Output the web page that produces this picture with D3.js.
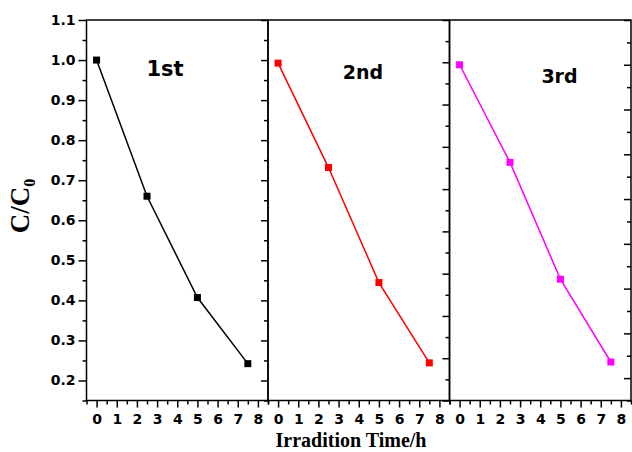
<!DOCTYPE html>
<html>
<head>
<meta charset="utf-8">
<script src="https://cdn.jsdelivr.net/npm/d3@7"></script>
<style>
  body { margin: 0; background: #fff; }
</style>
</head>
<body>
<svg id="chart"></svg>
<script>
// data (each run has its own y range)
const times = [0, 2.5, 5, 7.5];
const run1 = [1.0, 0.66, 0.407, 0.242];
const run2 = [0.998, 0.751, 0.479, 0.289];
const run3 = [1.0, 0.782, 0.521, 0.336];
const runNames = ['1st', '2nd', '3rd'];
const yDomains = [[0.15, 1.1], [0.2, 1.1], [0.25, 1.1]];
const xDomain = [-0.5, 8.5];
const xTickValues = [0, 1, 2, 3, 4, 5, 6, 7, 8];
const yTickValues = [0.2, 0.3, 0.4, 0.5, 0.6, 0.7, 0.8, 0.9, 1.0, 1.1];

const runs = [run1, run2, run3];
const colors = ['#000000', '#ff0000', '#ff00ff'];
// label placement inside each panel (px from panel left / top)
const labelPos = [[78.5, 56], [95, 59], [110, 63]];

const width = 632, height = 452;
const margin = { top: 20, right: 1, bottom: 51.5, left: 86.5 };
const panelW = (width - margin.left - margin.right) / 3;
const innerH = height - margin.top - margin.bottom;

const svg = d3.select('#chart')
  .attr('width', width)
  .attr('height', height);

// axis styling helper
function styleAxis(a) {
  a.select('.domain').remove();
  a.selectAll('.tick line').attr('stroke', '#000').attr('stroke-width', 1.5);
  a.selectAll('.tick text')
    .style('font-family', '"DejaVu Sans", sans-serif')
    .style('font-weight', 'bold')
    .style('font-size', '14px')
    .attr('fill', '#000');
}

runs.forEach((vals, i) => {
  const x = d3.scaleLinear().domain(xDomain).range([0, panelW]);
  const y = d3.scaleLinear().domain(yDomains[i]).range([innerH, 0]);
  const [y0, y1] = yDomains[i];

  const g = svg.append('g')
    .attr('transform', `translate(${margin.left + i * panelW},${margin.top})`);

  // x axis, majors with labels, minors at halves
  g.append('g')
    .attr('transform', `translate(0,${innerH})`)
    .call(d3.axisBottom(x).tickValues(xTickValues).tickSize(7).tickPadding(7).tickFormat(d3.format('d')))
    .call(styleAxis);
  g.append('g')
    .attr('transform', `translate(0,${innerH})`)
    .call(d3.axisBottom(x).tickValues(d3.range(xDomain[0], xDomain[1] + 0.01, 1)).tickSize(4).tickFormat(''))
    .call(styleAxis);

  const majors = yTickValues.filter(v => v >= y0 - 1e-9 && v <= y1 + 1e-9);
  const minors = yTickValues.map(v => +(v - 0.05).toFixed(2)).filter(v => v >= y0 - 1e-9 && v <= y1 + 1e-9);

  // left axis with labels only on first panel
  if (i === 0) {
    g.append('g')
      .call(d3.axisLeft(y).tickValues(majors).tickSize(8).tickPadding(3).tickFormat(d3.format('.1f')))
      .call(styleAxis);
    g.append('g')
      .call(d3.axisLeft(y).tickValues(minors).tickSize(4).tickFormat(''))
      .call(styleAxis);
  }

  // right side ticks, pointing inward
  g.append('g')
    .attr('transform', `translate(${panelW},0)`)
    .call(d3.axisLeft(y).tickValues(majors).tickSize(7).tickFormat(''))
    .call(styleAxis);
  g.append('g')
    .attr('transform', `translate(${panelW},0)`)
    .call(d3.axisLeft(y).tickValues(minors).tickSize(4).tickFormat(''))
    .call(styleAxis);

  // frame
  g.append('rect')
    .attr('width', panelW)
    .attr('height', innerH)
    .attr('fill', 'none')
    .attr('stroke', '#000')
    .attr('stroke-width', 1.5);

  const pts = times.map((t, k) => ({ t, v: vals[k] }));

  g.append('path')
    .datum(pts)
    .attr('fill', 'none')
    .attr('stroke', colors[i])
    .attr('stroke-width', 1.5)
    .attr('d', d3.line().x(d => x(d.t)).y(d => y(d.v)));

  g.selectAll('.pt')
    .data(pts)
    .enter()
    .append('rect')
    .attr('class', 'pt')
    .attr('x', d => x(d.t) - 3.5)
    .attr('y', d => y(d.v) - 3.5)
    .attr('width', 7)
    .attr('height', 7)
    .attr('fill', colors[i]);

  g.append('text')
    .attr('x', labelPos[i][0])
    .attr('y', labelPos[i][1])
    .attr('text-anchor', 'middle')
    .style('font-family', '"DejaVu Sans", sans-serif')
    .style('font-weight', 'bold')
    .style('font-size', i === 0 ? '21px' : '19px')
    .text(runNames[i]);
});

// axis titles
svg.append('text')
  .attr('x', 351)
  .attr('y', 447)
  .attr('text-anchor', 'middle')
  .style('font-family', '"Liberation Serif", serif')
  .style('font-weight', 'bold')
  .style('font-size', '20px')
  .text('Irradition Time/h');

const yt = svg.append('text')
  .attr('transform', 'translate(29,206) rotate(-90)')
  .attr('text-anchor', 'middle')
  .style('font-family', '"Liberation Serif", serif')
  .style('font-weight', 'bold')
  .style('font-size', '27px');
yt.append('tspan').text('C/C');
yt.append('tspan').attr('dy', 6).style('font-size', '16px').text('0');
</script>
</body>
</html>
